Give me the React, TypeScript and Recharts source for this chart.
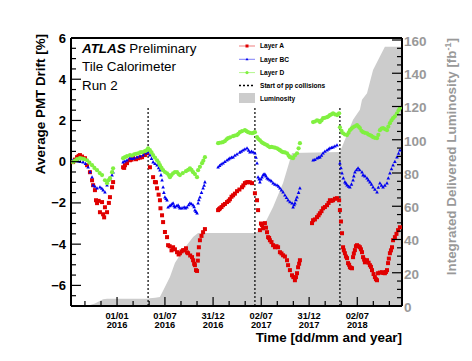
import { ComposedChart, Area, Scatter, XAxis, YAxis, ReferenceLine } from "recharts";

const FONT = "'Liberation Sans', Arial, Helvetica, sans-serif";
const RED = "#e00000";
const BLUE = "#0000f0";
const GREEN = "#80f040";
const LUMI_GRAY = "#cccccc";
const AXIS_GRAY = "#999999";

// plot frame edges (px) inside the 472x361 chart
const P = { left: 71, right: 402, top: 38, bottom: 306 };

// x = days since 01/01/2016
const xTickDays = [0, 182, 365, 548, 730, 913];
const xTickDates = ["01/01", "01/07", "31/12", "02/07", "31/12", "02/07"];
const xTickYears = ["2016", "2016", "2016", "2017", "2017", "2018"];
const xMinorDays = [-122, -61, 61, 122, 243, 304, 426, 487, 609, 670, 791, 852, 974, 1035];
const leftTickLabels = [-6, -4, -2, 0, 2, 4, 6];
const rightTickLabels = [0, 20, 40, 60, 80, 100, 120, 140, 160];
const collisionStarts = [118, 524, 847];

const layerA: [number, number][] = [
  [-167, -0.02], [-160, 0.1], [-152, 0.22], [-146, 0.28], [-141, 0.32], [-133, 0.25], [-122, 0.17], [-114, -0.17],
  [-103, -0.51], [-95, -0.9], [-91, -1.14], [-84, -1.38], [-80, -1.87], [-76, -2.01], [-70, -1.9], [-65, -2.45],
  [-57, -1.96], [-53, -2.55], [-49, -2.7], [-46, -2.21], [-38, -2.45], [-31, -2.0], [-27, -1.72], [-19, -1.24], [-15, -0.99],
  [23, -0.27], [27, -0.3], [30, -0.17], [38, -0.07], [49, 0.07], [55, 0.1], [61, 0.17], [72, 0.12], [80, 0.17],
  [88, 0.2], [95, 0.22], [106, 0.32], [114, 0.41],
  [125, -0.27], [137, -0.75], [144, -0.99], [148, -1.0], [152, -1.29], [158, -1.6], [163, -1.87], [165, -2.26],
  [171, -2.6], [175, -2.93], [182, -3.41], [190, -3.66], [194, -4.05], [200, -4.1], [207, -4.3], [213, -4.15],
  [220, -4.25], [228, -4.39], [234, -4.5], [239, -4.44], [245, -4.35], [251, -4.29], [257, -4.3], [262, -4.2],
  [266, -4.4], [270, -4.44], [278, -4.55], [285, -4.63], [289, -4.78], [293, -4.95], [296, -5.02], [300, -5.26],
  [304, -5.3], [307, -4.8], [308, -4.5], [311, -4.15], [315, -3.81], [321, -3.6], [327, -3.42], [334, -3.27],
  [384, -2.35], [388, -2.3], [391, -2.26], [397, -2.2], [403, -2.11], [410, -2.05], [418, -1.96], [424, -1.9],
  [429, -1.82], [435, -1.7], [441, -1.63], [448, -1.55], [456, -1.43], [465, -1.35], [475, -1.24], [480, -1.15],
  [486, -1.04], [492, -1.0], [498, -0.99], [505, -1.0], [513, -1.04],
  [524, -1.53], [532, -1.87], [536, -2.35], [543, -3.32], [547, -3.0], [551, -3.08], [555, -3.23], [562, -2.98],
  [566, -3.2], [570, -3.42], [574, -3.66], [578, -3.7], [581, -3.81], [587, -3.9], [593, -4.05], [600, -4.15],
  [606, -4.1], [612, -4.15], [619, -4.39], [625, -4.45], [631, -4.54], [638, -4.6], [646, -4.78], [650, -5.02],
  [657, -5.26], [665, -5.51], [670, -5.6], [676, -5.75], [680, -5.6], [684, -5.41], [688, -5.12], [692, -4.95], [695, -4.78],
  [741, -2.98], [745, -2.84], [752, -2.8], [760, -2.69], [766, -2.6], [771, -2.5], [777, -2.4], [783, -2.26],
  [790, -2.2], [798, -2.11], [804, -2.0], [809, -1.87], [815, -1.9], [821, -1.87], [828, -1.8], [836, -1.77], [844, -1.87],
  [847, -2.35], [851, -2.9], [855, -3.47], [859, -4.15], [862, -4.3], [866, -4.44], [870, -4.6], [874, -4.68],
  [878, -4.92], [882, -5.0], [885, -5.12], [889, -5.15], [893, -5.17], [897, -4.63], [900, -4.45], [904, -4.29],
  [908, -4.1], [912, -4.05], [918, -4.1], [923, -4.15], [927, -4.25], [931, -4.39], [935, -4.63], [939, -4.75],
  [942, -4.88], [946, -4.8], [950, -4.78], [956, -4.9], [961, -5.02], [965, -5.1], [969, -5.26], [975, -5.45],
  [980, -5.6], [984, -5.7], [988, -5.75], [992, -5.41], [999, -5.38], [1007, -5.36], [1012, -5.4], [1018, -5.41],
  [1022, -5.35], [1026, -5.26], [1030, -4.92], [1033, -4.7], [1037, -4.44], [1041, -4.3], [1045, -4.15], [1049, -3.81],
  [1056, -3.66], [1062, -3.5], [1068, -3.32], [1075, -3.18],
];

const layerBC: [number, number][] = [
  [-167, 0.07], [-160, 0.05], [-148, 0.02], [-140, 0.0], [-129, -0.02], [-120, -0.1], [-110, -0.27], [-102, -0.5],
  [-95, -0.75], [-91, -1.14], [-84, -1.2], [-76, -1.29], [-65, -1.24], [-58, -1.3], [-53, -1.38], [-46, -1.48],
  [-38, -1.14], [-34, -0.9], [-27, -0.8], [-19, -0.65], [-15, -0.51],
  [23, -0.02], [30, 0.02], [38, 0.07], [49, 0.17], [57, 0.15], [65, 0.17], [76, 0.22], [87, 0.27], [99, 0.32],
  [110, 0.41], [118, 0.46],
  [125, 0.32], [131, 0.15], [137, -0.02], [144, -0.1], [152, -0.17], [158, -0.3], [163, -0.41], [167, -0.65],
  [171, -0.9], [175, -1.24], [178, -1.5], [182, -1.72], [186, -1.8], [190, -1.87], [194, -2.21], [200, -2.15],
  [205, -2.11], [209, -2.05], [213, -2.01], [217, -2.15], [220, -2.21], [226, -2.15], [232, -2.11], [236, -2.2],
  [239, -2.26], [247, -2.25], [255, -2.21], [260, -2.25], [266, -2.21], [272, -2.1], [277, -2.01], [283, -2.05],
  [289, -2.11], [293, -2.2], [296, -2.35], [300, -2.42], [304, -2.5], [308, -2.01], [311, -1.85], [315, -1.72],
  [321, -1.5], [327, -1.29], [331, -1.15], [334, -0.99],
  [384, -0.27], [390, -0.2], [396, -0.12], [403, -0.07], [410, 0.0], [418, 0.07], [424, 0.12], [429, 0.17],
  [435, 0.2], [441, 0.22], [448, 0.3], [456, 0.36], [466, 0.45], [472, 0.5], [479, 0.56], [486, 0.6], [494, 0.65],
  [500, 0.55], [505, 0.46], [511, 0.5], [517, 0.46],
  [524, 0.41], [528, 0.2], [532, -0.07], [536, -0.75], [540, -0.85], [543, -0.99], [547, -0.85], [551, -0.75],
  [555, -0.65], [558, -0.62], [562, -0.61], [566, -0.7], [570, -0.8], [575, -0.85], [581, -0.9], [587, -0.95],
  [593, -1.04], [600, -1.1], [608, -1.14], [614, -1.2], [619, -1.29], [625, -1.38], [631, -1.48], [638, -1.63],
  [644, -1.75], [650, -1.87], [657, -1.95], [665, -2.01], [669, -2.21], [673, -2.1], [676, -2.01], [680, -1.85],
  [684, -1.72], [690, -1.5], [695, -1.29],
  [745, 0.07], [752, 0.1], [760, 0.17], [766, 0.2], [771, 0.22], [777, 0.3], [783, 0.41], [790, 0.5], [798, 0.56],
  [804, 0.6], [809, 0.65], [815, 0.68], [821, 0.7], [828, 0.75], [836, 0.8],
  [847, -0.07], [851, -0.3], [855, -0.56], [860, -0.8], [866, -0.99], [870, -1.05], [874, -1.14], [880, -1.2],
  [885, -1.24], [891, -1.1], [897, -0.9], [900, -0.7], [904, -0.51], [910, -0.4], [916, -0.32], [922, -0.4],
  [931, -0.51], [935, -0.65], [942, -0.7], [950, -0.8], [955, -0.9], [961, -0.99], [967, -1.1], [973, -1.24],
  [980, -1.35], [988, -1.48], [993, -1.25], [999, -1.04], [1005, -1.15], [1011, -1.24], [1018, -1.15], [1026, -1.04],
  [1031, -0.8], [1037, -0.56], [1043, -0.35], [1049, -0.17], [1056, 0.0], [1064, 0.22], [1070, 0.4], [1075, 0.56],
];

const layerD: [number, number][] = [
  [-167, -0.02], [-160, 0.05], [-152, 0.12], [-141, 0.17], [-133, 0.15], [-125, 0.12], [-114, 0.07], [-105, -0.05],
  [-95, -0.17], [-86, -0.3], [-76, -0.41], [-66, -0.55], [-57, -0.65], [-46, -0.9], [-38, -1.04], [-32, -0.9],
  [-27, -0.8], [-19, -0.51], [-15, -0.32],
  [23, 0.17], [30, 0.22], [38, 0.27], [49, 0.32], [57, 0.3], [65, 0.36], [72, 0.38], [80, 0.41], [88, 0.45],
  [95, 0.46], [106, 0.51], [112, 0.55], [118, 0.65],
  [125, 0.56], [131, 0.45], [137, 0.32], [144, 0.2], [152, 0.07], [158, -0.05], [163, -0.17], [169, -0.3],
  [175, -0.41], [182, -0.5], [190, -0.56], [196, -0.65], [201, -0.75], [207, -0.65], [213, -0.56], [220, -0.5],
  [228, -0.51], [234, -0.6], [239, -0.65], [250, -0.55], [262, -0.46], [270, -0.4], [277, -0.32], [283, -0.4],
  [289, -0.51], [296, -0.6], [304, -0.75], [308, -0.41], [315, -0.25], [323, -0.07], [328, 0.05], [334, 0.22],
  [384, 0.9], [390, 0.92], [397, 0.93], [403, 0.95], [410, 1.0], [416, 1.08], [422, 1.14], [430, 1.18],
  [441, 1.24], [448, 1.27], [456, 1.29], [461, 1.35], [467, 1.43], [475, 1.48], [486, 1.53], [492, 1.48],
  [498, 1.43], [505, 1.4], [513, 1.38], [518, 1.4], [524, 1.43],
  [532, 1.19], [537, 1.1], [543, 1.04], [549, 0.95], [555, 0.9], [562, 0.85], [570, 0.8], [575, 0.75], [581, 0.7],
  [587, 0.72], [593, 0.7], [600, 0.68], [608, 0.65], [614, 0.6], [619, 0.56], [625, 0.5], [631, 0.46], [638, 0.45],
  [646, 0.41], [652, 0.3], [657, 0.22], [663, 0.2], [669, 0.17], [676, 0.3], [684, 0.41], [690, 0.65], [695, 0.9],
  [745, 1.92], [752, 1.95], [760, 2.01], [766, 1.98], [771, 1.92], [777, 2.0], [783, 2.11], [790, 2.13], [798, 2.16],
  [804, 2.2], [809, 2.26], [815, 2.3], [821, 2.35], [828, 2.3], [836, 2.26], [840, 2.3], [844, 2.35],
  [847, 1.67], [853, 1.5], [859, 1.38], [866, 1.32], [874, 1.29], [880, 1.4], [885, 1.53], [891, 1.6], [897, 1.67],
  [904, 1.72], [912, 1.77], [918, 1.7], [923, 1.63], [929, 1.5], [935, 1.43], [942, 1.4], [950, 1.38], [955, 1.32],
  [961, 1.29], [967, 1.25], [973, 1.19], [980, 1.16], [988, 1.14], [993, 1.3], [999, 1.53], [1005, 1.6], [1011, 1.63],
  [1018, 1.58], [1026, 1.53], [1031, 1.7], [1037, 1.87], [1043, 2.0], [1049, 2.11], [1056, 2.2], [1064, 2.35],
  [1070, 2.5], [1075, 2.6],
];

// integrated delivered luminosity [fb^-1]
const lumiDays = [-175, -114, -84, -53, -38, 118, 125, 145, 163, 201, 220, 251, 289, 308, 524, 540, 555, 593, 631, 665, 847, 866, 897, 923, 931, 950, 973, 999, 1018, 1083];
const lumiValues = [0, 0, 1.5, 4.0, 4.4, 4.4, 4.6, 5.0, 5.4, 17.4, 25.9, 33.7, 41.5, 43.9, 43.9, 45.0, 47.5, 59.5, 74.0, 92.0, 92.6, 100, 112, 118, 124, 128, 142, 150, 156, 156];

const lumiData = lumiDays.map((d, i) => ({ day: d, lumi: lumiValues[i] }));
const toPts = (arr: [number, number][]) => arr.map(([day, v]) => ({ day, v }));

const leftTicks: number[] = [];
for (let v = -7; v <= 6.001; v += 0.5) leftTicks.push(Math.round(v * 10) / 10);
const rightTicks: number[] = [];
for (let v = 0; v <= 160; v += 5) rightTicks.push(v);
const xTicks = [...xTickDays, ...xMinorDays].sort((a, b) => a - b);

function XTick({ x, payload }: any) {
  const i = xTickDays.indexOf(payload.value);
  const major = i >= 0;
  return (
    <g>
      <line x1={x} x2={x} y1={P.bottom} y2={P.bottom - (major ? 9 : 5)} stroke="#000" strokeWidth={1.2} />
      {major && (
        <text x={x} textAnchor="middle" fontSize={9.3} fontWeight="bold" fontFamily={FONT} fill="#000">
          <tspan x={x} y={318.5}>{xTickDates[i]}</tspan>
          <tspan x={x} y={327.5}>{xTickYears[i]}</tspan>
        </text>
      )}
    </g>
  );
}

function LeftTick({ y, payload }: any) {
  const v = payload.value;
  const major = leftTickLabels.includes(v);
  return (
    <g>
      <line x1={P.left} x2={P.left + (major ? 10 : 5)} y1={y} y2={y} stroke="#000" strokeWidth={1.2} />
      {major && (
        <text x={66} y={y + 4.5} textAnchor="end" fontSize={13} fontWeight="bold" fontFamily={FONT} fill="#000">
          {v < 0 ? "\u2212" + Math.abs(v) : v}
        </text>
      )}
    </g>
  );
}

function RightTick({ y, payload }: any) {
  const v = payload.value;
  const major = rightTickLabels.includes(v);
  return (
    <g>
      <line x1={P.right} x2={P.right - (major ? 10 : 5)} y1={y} y2={y} stroke="#000" strokeWidth={1.2} />
      {major && (
        <text x={404} y={y + 6} textAnchor="start" fontSize={13.5} fontWeight="bold" fontFamily={FONT} fill={AXIS_GRAY}>
          {v}
        </text>
      )}
    </g>
  );
}

const squareShape = (p: any) => <rect x={p.cx - 2} y={p.cy - 2} width={4} height={4} fill={RED} />;
const triangleShape = (p: any) => (
  <path d={`M${p.cx},${p.cy - 2} L${p.cx + 1.8},${p.cy + 1.3} L${p.cx - 1.8},${p.cy + 1.3} Z`} fill={BLUE} />
);
const circleShape = (p: any) => <circle cx={p.cx} cy={p.cy} r={2.1} fill={GREEN} />;

function Overlay() {
  const legendText = { fontSize: 6.6, fontWeight: "bold" as const, fontFamily: FONT, fill: "#000" };
  return (
    <svg width={472} height={361} style={{ position: "absolute", left: 0, top: 0, pointerEvents: "none" }}>
      <text x={82} y={52.5} fontSize={13.4} fontFamily={FONT} fill="#000">
        <tspan fontWeight="bold" fontStyle="italic">ATLAS</tspan>
        <tspan> Preliminary</tspan>
      </text>
      <text x={82} y={71} fontSize={13.4} fontFamily={FONT} fill="#000">Tile Calorimeter</text>
      <text x={82} y={89.5} fontSize={13.4} fontFamily={FONT} fill="#000">Run 2</text>

      <line x1={239} x2={255} y1={46} y2={46} stroke={RED} strokeOpacity={0.5} />
      <rect x={245.5} y={44.5} width={3} height={3} fill={RED} />
      <text x={260} y={48.4} {...legendText}>Layer A</text>
      <line x1={239} x2={255} y1={59.3} y2={59.3} stroke={BLUE} strokeOpacity={0.5} />
      <path d="M247,57.8 L248.5,60.3 L245.5,60.3 Z" fill={BLUE} />
      <text x={260} y={61.7} {...legendText}>Layer BC</text>
      <line x1={239} x2={255} y1={72.6} y2={72.6} stroke={GREEN} strokeOpacity={0.6} />
      <circle cx={247} cy={72.6} r={1.6} fill={GREEN} />
      <text x={260} y={75} {...legendText}>Layer D</text>
      <line x1={239} x2={255} y1={85.5} y2={85.5} stroke="#000" strokeWidth={1.3} strokeDasharray="2 2" />
      <text x={260} y={87.9} {...legendText}>Start of pp collisions</text>
      <rect x={239} y={93} width={16} height={10} fill={LUMI_GRAY} />
      <text x={260} y={101} {...legendText}>Luminosity</text>

      <text x={45} y={34} transform="rotate(-90 45 34)" textAnchor="end" fontSize={13.4} fontWeight="bold" fontFamily={FONT} fill="#000">
        Average PMT Drift [%]
      </text>
      <text x={456} y={38} transform="rotate(-90 456 38)" textAnchor="end" fontSize={13.4} fontWeight="bold" fontFamily={FONT} fill={AXIS_GRAY}>
        Integrated Delivered Luminosity [fb<tspan dy={-5} fontSize={9}>-1</tspan><tspan dy={5}>]</tspan>
      </text>
      <text x={402} y={341.5} textAnchor="end" fontSize={13.4} fontWeight="bold" fontFamily={FONT} fill="#000">
        Time [dd/mm and year]
      </text>
    </svg>
  );
}

export default function App() {
  return (
    <div style={{ position: "absolute", left: 0, top: 0, width: 472, height: 361, background: "#fff" }}>
      <ComposedChart width={472} height={361} data={lumiData} margin={{ top: P.top, right: 0, bottom: 0, left: 0 }}>
        <Area
          yAxisId="right"
          type="linear"
          dataKey="lumi"
          fill={LUMI_GRAY}
          fillOpacity={1}
          stroke="none"
          isAnimationActive={false}
        />
        {collisionStarts.map((d) => (
          <ReferenceLine
            key={d}
            yAxisId="left"
            segment={[{ x: d, y: -7 }, { x: d, y: 2.6 }]}
            stroke="#000"
            strokeWidth={1.2}
            strokeDasharray="2 2"
          />
        ))}
        <Scatter yAxisId="left" data={toPts(layerA)} dataKey="v" shape={squareShape} isAnimationActive={false} />
        <Scatter yAxisId="left" data={toPts(layerBC)} dataKey="v" shape={triangleShape} isAnimationActive={false} />
        <Scatter yAxisId="left" data={toPts(layerD)} dataKey="v" shape={circleShape} isAnimationActive={false} />
        <ReferenceLine yAxisId="left" y={6} stroke="#000" strokeWidth={2} />
        <XAxis
          type="number"
          dataKey="day"
          domain={[-175, 1083]}
          ticks={xTicks}
          interval={0}
          allowDataOverflow
          height={55}
          tickLine={false}
          axisLine={{ stroke: "#000", strokeWidth: 2 }}
          tick={XTick}
        />
        <YAxis
          yAxisId="left"
          type="number"
          domain={[-7, 6]}
          ticks={leftTicks}
          interval={0}
          allowDataOverflow
          width={P.left}
          tickLine={false}
          axisLine={{ stroke: "#000", strokeWidth: 2 }}
          tick={LeftTick}
        />
        <YAxis
          yAxisId="right"
          orientation="right"
          type="number"
          domain={[0, 161.2]}
          ticks={rightTicks}
          interval={0}
          allowDataOverflow
          width={472 - P.right}
          tickLine={false}
          axisLine={{ stroke: "#000", strokeWidth: 2 }}
          tick={RightTick}
        />
      </ComposedChart>
      <Overlay />
    </div>
  );
}
